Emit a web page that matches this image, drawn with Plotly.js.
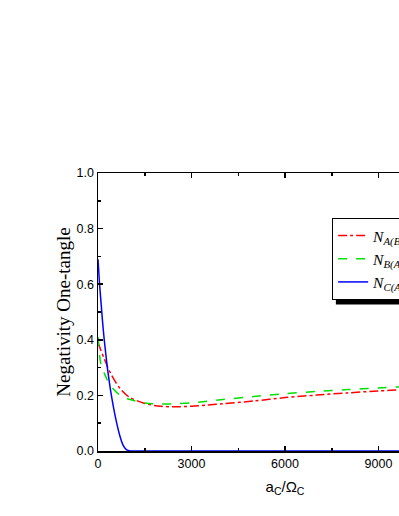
<!DOCTYPE html>
<html>
<head>
<meta charset="utf-8">
<script src="https://cdn.plot.ly/plotly-3.0.1.min.js"></script>
<style>
  html, body { margin: 0; padding: 0; overflow: hidden; background: #fff; }
  #plot { width: 540px; height: 516px; }
</style>
</head>
<body>
<div id="plot"></div>
<script>
// readings
var xRed = [0, 100, 200, 300, 400, 500, 700, 1000, 1500, 2000, 2500, 3000, 3500, 4000, 5000, 6000, 7000, 8000, 9000, 10000, 11000, 12000];
var yRed = [0.39, 0.36, 0.332, 0.305, 0.28, 0.26, 0.226, 0.194, 0.171, 0.161, 0.159, 0.161, 0.165, 0.170, 0.180, 0.192, 0.201, 0.209, 0.216, 0.222, 0.227, 0.231];

var xGreen = [0, 50, 100, 200, 300, 400, 500, 700, 1000, 1500, 2000, 2500, 3000, 4000, 5000, 6000, 7000, 8000, 9000, 10000, 11000, 12000];
var yGreen = [0.41, 0.345, 0.31, 0.28, 0.255, 0.237, 0.222, 0.201, 0.186, 0.173, 0.169, 0.170, 0.173, 0.185, 0.196, 0.206, 0.214, 0.221, 0.227, 0.232, 0.236, 0.240];

var xBlue = [0, 50, 100, 150, 200, 300, 400, 500, 600, 700, 800, 900, 1000, 1100, 1500, 4000, 8000, 12000];
var yBlue = [0.69, 0.60, 0.53, 0.46, 0.40, 0.30, 0.22, 0.155, 0.10, 0.055, 0.022, 0.006, 0.001, 0, 0, 0, 0, 0];

var names = ['<i>N</i><sub><i>A(BC)</i></sub>', '<i>N</i><sub><i>B(AC)</i></sub>', '<i>N</i><sub><i>C(AB)</i></sub>'];

var data = [
  {x: xRed, y: yRed, name: names[0], mode: 'lines', type: 'scatter', line: {color: '#ff0000', width: 1.5, dash: 'dashdot', shape: 'spline', smoothing: 0.8}},
  {x: xGreen, y: yGreen, name: names[1], mode: 'lines', type: 'scatter', line: {color: '#00e000', width: 1.5, dash: 'dash', shape: 'spline', smoothing: 0.8}},
  {x: xBlue, y: yBlue, name: names[2], mode: 'lines', type: 'scatter', line: {color: '#0000ff', width: 1.5, shape: 'spline', smoothing: 0.5}}
];

var axisBase = {
  showline: true, linecolor: '#000', linewidth: 1.5, mirror: 'ticks',
  ticks: 'inside', ticklen: 5, tickwidth: 1.5, tickcolor: '#000',
  showgrid: false, zeroline: false,
  tickfont: {family: 'Liberation Sans, Arial', size: 12.5, color: '#000'}
};

var layout = {
  width: 540, height: 516,
  margin: {l: 98, r: 68, t: 173, b: 65},
  paper_bgcolor: '#fff', plot_bgcolor: '#fff',
  showlegend: true,
  legend: {
    x: 0.626, y: 0.838, xanchor: 'left', yanchor: 'top',
    bordercolor: '#000', borderwidth: 1, bgcolor: '#fff',
    font: {family: 'Liberation Serif, Times New Roman', size: 15.5, color: '#000'},
    tracegroupgap: 0
  },
  xaxis: Object.assign({}, axisBase, {
    range: [0, 12000], tickvals: [0, 3000, 6000, 9000, 12000],
    minor: {tickvals: [1500, 4500, 7500, 10500], ticks: 'inside', ticklen: 3, tickwidth: 1.5, tickcolor: '#000'},
    title: {text: 'a<sub>C</sub>/Ω<sub>C</sub>', font: {family: 'Liberation Sans, Arial', size: 15, color: '#000'}, standoff: 12}
  }),
  yaxis: Object.assign({}, axisBase, {
    range: [0, 1], dtick: 0.2, tickformat: '.1f',
    minor: {dtick: 0.1, ticks: 'inside', ticklen: 3, tickwidth: 1.5, tickcolor: '#000'},
    title: {text: 'Negativity One-tangle', font: {family: 'Liberation Serif, Times New Roman', size: 19, color: '#000'}, standoff: 1}
  }),
  shapes: [
    // legend drop shadow
    {type: 'rect', xref: 'paper', yref: 'paper', x0: 0.636, x1: 1.2, y0: 0.527, y1: 0.545,
     fillcolor: '#000', line: {width: 0}, layer: 'above'}
  ]
};

Plotly.newPlot('plot', data, layout, {displayModeBar: false, staticPlot: true});
</script>
</body>
</html>
